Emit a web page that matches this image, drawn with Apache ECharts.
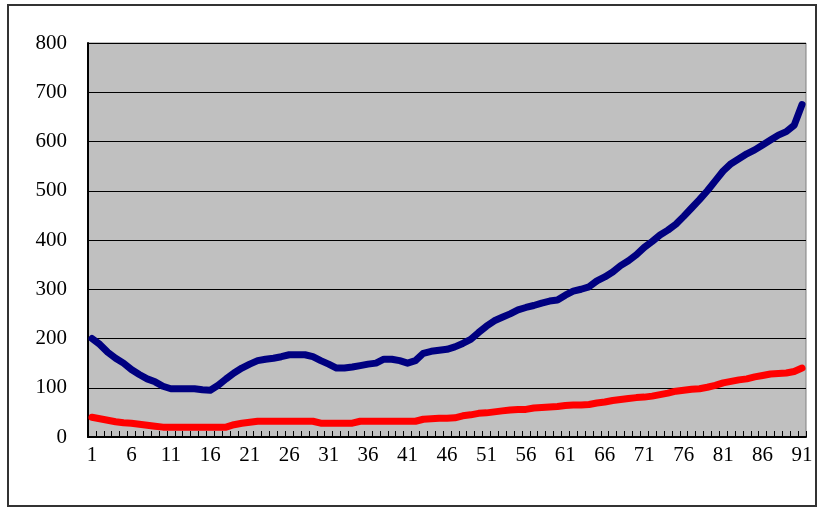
<!DOCTYPE html>
<html>
<head>
<meta charset="utf-8">
<script src="https://cdn.jsdelivr.net/npm/echarts@6/dist/echarts.min.js"></script>
<style>
  html, body { margin: 0; padding: 0; background: #fff; }
  #wrap { position: relative; width: 819px; height: 511px; }
  #frame { position: absolute; left: 7px; top: 4px; width: 810px; height: 503px; border: 2px solid #333; box-sizing: border-box; }
  #chart { position: absolute; left: 0; top: 0; width: 819px; height: 511px; }
</style>
</head>
<body>
<div id="wrap">
  <div id="frame"></div>
  <div id="chart"></div>
</div>
<script>
  // x 轴类别 1..91
  const categories = []
  for (let i = 1; i <= 91; i++) categories.push(String(i))

  // 蓝线（上方）
  const blueValues = [
    200, 188, 172, 160, 150, 137, 127, 118, 112, 103,
    98, 98, 98, 98, 96, 95, 105, 118, 130, 140,
    148, 155, 158, 160, 163, 167, 167, 167, 163, 155,
    148, 140, 140, 142, 145, 148, 150, 158, 158, 155,
    150, 155, 170, 174, 176, 178, 183, 190, 198, 212,
    225, 236, 243, 250, 258, 263, 267, 272, 276, 278,
    288, 296, 300, 305, 317, 325, 335, 348, 358, 370,
    385, 397, 410, 420, 432, 448, 465, 482, 500, 520,
    540, 555, 565, 575, 583, 593, 603, 613, 620, 633,
    675
  ]

  // 红线（下方）
  const redValues = [
    40, 37, 34, 31, 29, 28, 26, 24, 22, 20,
    20, 20, 20, 20, 20, 20, 20, 20, 25, 28,
    30, 32, 32, 32, 32, 32, 32, 32, 32, 28,
    28, 28, 28, 28, 32, 32, 32, 32, 32, 32,
    32, 32, 36, 37, 38, 38, 39, 43, 45, 48,
    49, 51, 53, 55, 56, 56, 59, 60, 61, 62,
    64, 65, 65, 66, 69, 71, 74, 76, 78, 80,
    81, 83, 86, 89, 93, 95, 97, 98, 101, 105,
    110, 113, 116, 118, 122, 125, 128, 129, 130, 133,
    140
  ]

  const chart = echarts.init(document.getElementById('chart'), null, { renderer: 'canvas' })
  const labelFont = { fontFamily: 'Liberation Serif', fontSize: 21, color: '#000' }

  const option = {
    animation: false,
    backgroundColor: 'transparent',
    grid: {
      left: 88, top: 43, width: 718, height: 394,
      show: true, backgroundColor: '#C0C0C0', borderColor: '#808080', borderWidth: 1
    },
    xAxis: {
      type: 'category',
      data: categories,
      boundaryGap: true,
      axisLine: { lineStyle: { color: '#000', width: 2 } },
      axisTick: { show: true, inside: true, length: 6, interval: 0, lineStyle: { color: '#000' } },
      axisLabel: Object.assign({ interval: 4, margin: 8 }, labelFont),
      splitLine: { show: false }
    },
    yAxis: {
      type: 'value',
      min: 0, max: 800, interval: 100,
      axisLine: { show: true, lineStyle: { color: '#000', width: 2 } },
      axisTick: { show: true, inside: true, length: 7, lineStyle: { color: '#000' } },
      axisLabel: Object.assign({ margin: 21 }, labelFont),
      splitLine: { show: true, lineStyle: { color: '#000', width: 1 } }
    },
    series: [
      {
        type: 'line', data: blueValues, symbol: 'none',
        lineStyle: { color: '#000080', width: 7, cap: 'round', join: 'round' }
      },
      {
        type: 'line', data: redValues, symbol: 'none',
        lineStyle: { color: '#FF0000', width: 7, cap: 'round', join: 'round' }
      }
    ]
  }
  chart.setOption(option)
</script>
</body>
</html>
